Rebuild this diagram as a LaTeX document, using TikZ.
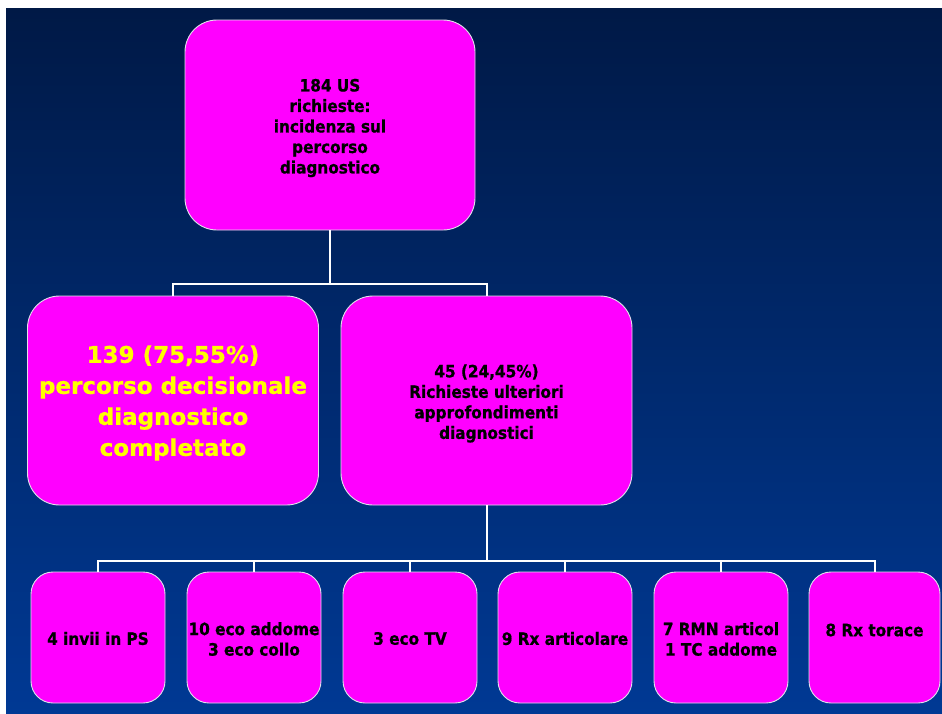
\documentclass[tikz,border=0pt]{standalone}
\usepackage{fontspec}
\setmainfont{DejaVu Sans Condensed}[BoldFont={DejaVu Sans Condensed Bold},BoldFeatures={FakeBold=0.8}]
\newfontfamily\widebold{DejaVu Sans Bold}[FakeBold=0.8]
\definecolor{bgtop}{RGB}{0,25,70}
\definecolor{bgbot}{RGB}{0,57,148}
\definecolor{boxfill}{RGB}{255,0,255}
\definecolor{boxline}{RGB}{225,225,235}
\definecolor{yell}{RGB}{255,255,0}
\tikzset{
  box/.style={draw=boxline, line width=0.9pt, fill=boxfill, rectangle, inner sep=0pt},
  bigbox/.style={box, rounded corners=32pt, minimum width=291pt, minimum height=209pt},
  smallbox/.style={box, rounded corners=22pt, minimum width=134pt, minimum height=131pt},
  txt/.style={inner sep=0pt, align=center, text=black, font=\bfseries\fontsize{17}{20.5}\selectfont},
  bigtxt/.style={inner sep=0pt, align=center, text=yell, font=\widebold\fontsize{23}{31}\selectfont},
  link/.style={draw=white, line width=2pt}
}
\begin{document}
\begin{tikzpicture}[x=1pt,y=-1pt]
\useasboundingbox (0,0) rectangle (942,713);
\fill[white] (0,0) rectangle (942,713);
\shade[top color=bgtop, bottom color=bgbot] (6,8) rectangle (942,713);

\node[bigbox, minimum width=290pt, minimum height=210pt] (top) at (330,125) {};
\node[txt] (ttop) at (330,128) {184 US\\richieste:\\incidenza sul\\percorso\\diagnostico};
\node[bigbox] (left) at (173,400.5) {};
\node[bigtxt] (tleft) at (173,403) {139 (75,55\%)\\percorso decisionale\\diagnostico\\completato};
\node[bigbox] (right) at (486.5,400.5) {};
\node[txt] (tright) at (486.5,403.5) {45 (24,45\%)\\Richieste ulteriori\\approfondimenti\\diagnostici};

\node[smallbox] (b1) at (98,637.5) {};
\node[smallbox] (b2) at (254,637.5) {};
\node[smallbox] (b3) at (410,637.5) {};
\node[smallbox] (b4) at (565,637.5) {};
\node[smallbox] (b5) at (721,637.5) {};
\node[smallbox, minimum width=131pt] (b6) at (874.5,637.5) {};
\node[txt] (t1) at (98,638.5) {4 invii in PS};
\node[txt] (t2) at (254,639) {10 eco addome\\3 eco collo};
\node[txt] (t3) at (410,638.5) {3 eco TV};
\node[txt] (t4) at (565,638.5) {9 Rx articolare};
\node[txt] (t5) at (721,639) {7 RMN articol\\1 TC addome};
\node[txt] (t6) at (874.5,630) {8 Rx torace};

\coordinate (j1) at (330,283.5);
\draw[link] (top.south) -- (j1);
\draw[link] (left.north) |- (j1) -| (right.north);

\coordinate (j2) at (486.5,561);
\draw[link] (right.south) -- (j2);
\foreach \b in {b1,b2,b3,b4,b5,b6}{
  \draw[link] (\b.north) |- (j2);
}
\end{tikzpicture}
\end{document}
